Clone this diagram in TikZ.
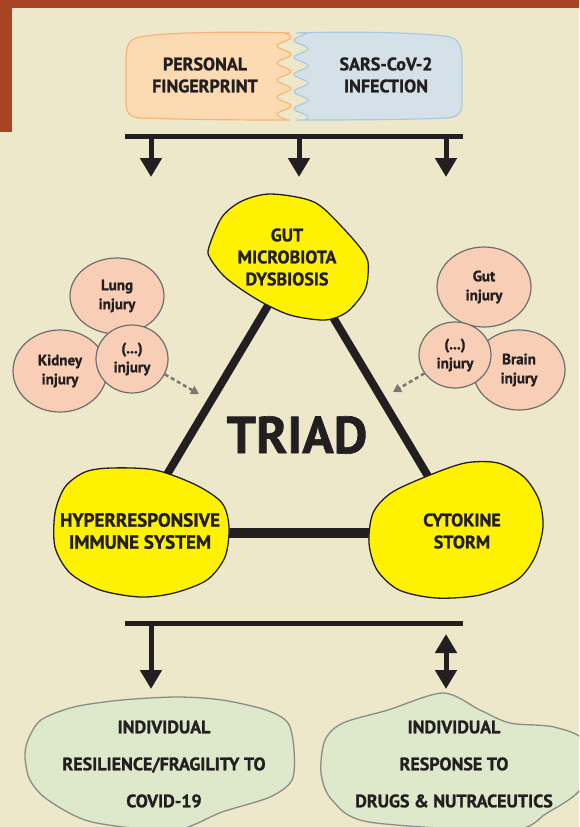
\documentclass[tikz,border=0pt]{standalone}
\usepackage{fontspec}
\setmainfont{PT Sans}[BoldFeatures={FakeBold=1.2}]
\usetikzlibrary{arrows.meta,shapes.geometric}

\definecolor{paper}{RGB}{237,232,201}
\definecolor{rust}{RGB}{168,68,36}
\definecolor{ink}{RGB}{35,31,32}
\definecolor{peach}{RGB}{252,218,178}
\definecolor{peachline}{RGB}{246,182,122}
\definecolor{sky}{RGB}{212,225,232}
\definecolor{skyline}{RGB}{172,202,222}
\definecolor{yolk}{RGB}{255,242,0}
\definecolor{blush}{RGB}{248,206,182}
\definecolor{rim}{RGB}{110,110,110}
\definecolor{leaf}{RGB}{222,232,203}
\definecolor{hintgray}{RGB}{120,120,120}

\pgfdeclarelayer{back}
\pgfsetlayers{back,main}

\tikzset{
  txt/.style={font=\bfseries\fontsize{18}{22}\selectfont, text=ink, align=center, inner sep=0pt},
  injury/.style={ellipse, draw=rim, line width=1.2pt, fill=blush, inner sep=0pt,
    font=\bfseries\fontsize{15}{19}\selectfont, text=ink, align=center},
  blob/.style={fill=yolk, draw=ink, line width=1.3pt},
  cloud/.style={fill=leaf, draw=rim!80, line width=1.3pt},
  flow/.style={line width=5pt, draw=ink, -{Triangle[width=21pt,length=19pt]}},
  link/.style={line width=8pt, draw=ink},
  hint/.style={line width=2.5pt, draw=hintgray, dash pattern=on 4pt off 3pt,
    -{Triangle[width=9pt,length=8pt]}},
}

\begin{document}
\begin{tikzpicture}[x=1pt, y=-1pt]
  \useasboundingbox (0,0) rectangle (579,827);
  \clip (0,0) rectangle (579,827);
  \begin{pgfonlayer}{back}
    \fill[paper] (0,0) rectangle (579,827);
  \end{pgfonlayer}
  % frame corner
  \fill[rust] (0,0) rectangle (579,8);
  \fill[rust] (0,0) rectangle (12,132);

  % top box, two halves with a wavy seam
  \filldraw[fill=peach, draw=peachline, line width=1.2pt]
    (290,33) .. controls (220,31) and (150,33) .. (136,38)
    .. controls (127,41) and (126,50) .. (126,60) -- (126,102)
    .. controls (126,112) and (129,117) .. (140,118)
    .. controls (200,120) and (260,120) .. (290,120)
    -- plot[domain=120:33, samples=90] ({284+7*sin(21*(\x-33))}, \x) -- cycle;
  \filldraw[fill=sky, draw=skyline, line width=1.2pt]
    (296,33) .. controls (360,31) and (430,33) .. (450,37)
    .. controls (460,40) and (462,48) .. (462,60) -- (462,104)
    .. controls (462,113) and (458,117) .. (448,118)
    .. controls (400,120) and (330,120) .. (296,120)
    -- plot[domain=120:33, samples=90] ({301+7*sin(21*(\x-33)+120)}, \x) -- cycle;
  \node[txt] (pf) at (205,75) {PERSONAL\\FINGERPRINT};
  \node[txt] (sars) at (386,75) {SARS-CoV-2\\INFECTION};

  % bar and arrows to the triad
  \coordinate (topW) at (125,136);
  \coordinate (topE) at (463,136);
  \coordinate (t1) at (151,177);
  \coordinate (t2) at (299,177);
  \coordinate (t3) at (446,177);
  \draw[line width=5pt, ink] (topW) -- (topE);
  \foreach \t in {t1,t2,t3}
    \draw[flow] (topW -| \t) -- (\t);

  % triad blobs
  \draw[blob] plot[smooth cycle] coordinates {(209,247) (222,217) (242,201) (271,194)
    (314,202) (343,228) (366,256) (368,275) (364,292) (347,312) (325,320) (290,315)
    (258,300) (226,278) (210,258)};
  \draw[blob] plot[smooth cycle] coordinates {(111,468) (155,470) (196,485) (222,503)
    (229,527) (225,557) (207,580) (174,593) (140,597) (100,590) (70,573) (55,547)
    (55,513) (65,487) (85,472)};
  \draw[blob] plot[smooth cycle] coordinates {(425,477) (465,463) (498,463) (524,477)
    (539,500) (543,527) (535,557) (517,580) (480,595) (436,598) (399,590) (377,570)
    (369,543) (373,513) (391,493)};
  \node[txt] (gut) at (287,257) {GUT\\MICROBIOTA\\DYSBIOSIS};
  \node[txt, font=\bfseries\fontsize{19}{22}\selectfont] (hyper) at (140,531) {HYPERRESPONSIVE\\IMMUNE SYSTEM};
  \node[txt] (cyto) at (462,531) {CYTOKINE\\STORM};
  \node[font=\bfseries\fontsize{52}{52}\selectfont, text=ink] (triad) at (297,435) {TRIAD};

  \coordinate (gutv) at (297,257);
  \coordinate (hyperv) at (132,533);
  \coordinate (cytov) at (462,533);
  \begin{pgfonlayer}{back}
    \draw[link] (gutv) -- (hyperv);
    \draw[link] (gutv) -- (cytov);
    \draw[link, line width=10pt] (hyperv) -- (cytov);
  \end{pgfonlayer}

  % organ injuries
  \node[injury, minimum width=94pt, minimum height=76pt] (lung) at (117,296) {Lung\\injury};
  \node[injury, minimum width=94pt, minimum height=82pt] (kidney) at (60,371) {Kidney\\injury};
  \node[injury, minimum width=72pt, minimum height=68pt] (injl) at (132,359) {(...)\\injury};
  \node[injury, minimum width=94pt, minimum height=80pt] (gutinj) at (484,287) {Gut\\injury};
  \node[injury, minimum width=92pt, minimum height=80pt] (brain) at (519,370) {Brain\\injury};
  \node[injury, minimum width=72pt, minimum height=66pt] (injr) at (455,355) {(...)\\injury};
  \coordinate (hintl) at (199,394);
  \coordinate (hintr) at (393,392);
  \draw[hint] (injl.-25) -- (hintl);
  \draw[hint] (injr.-149) -- (hintr);

  % outcomes
  \coordinate (botW) at (125,623);
  \coordinate (botE) at (463,623);
  \coordinate (b1) at (151,689);
  \coordinate (b2) at (446,689);
  \coordinate (b2top) at (446,634);
  \draw[line width=5pt, ink] (botW) -- (botE);
  \draw[flow] (botW -| b1) -- (b1);
  \draw[line width=5pt, draw=ink, {Triangle[width=21pt,length=19pt]}-{Triangle[width=21pt,length=19pt]}] (b2top) -- (b2);

  \draw[cloud] plot[smooth cycle] coordinates {(41,720) (74,707) (122,700) (177,697)
    (222,700) (266,710) (288,723) (294,750) (292,780) (270,797) (222,812) (174,830)
    (92,822) (48,800) (30,780) (25,757) (28,740)};
  \draw[cloud] plot[smooth cycle] coordinates {(343,723) (388,710) (443,693) (480,710)
    (510,723) (554,727) (585,742) (582,787) (547,813) (510,830) (369,822) (332,800)
    (321,773) (325,740)};
  \node[txt, font=\bfseries\fontsize{18}{37}\selectfont] (resil) at (164,764)
    {INDIVIDUAL\\RESILIENCE/FRAGILITY TO\\COVID-19};
  \node[txt, font=\bfseries\fontsize{18}{37}\selectfont] (resp) at (454,764)
    {INDIVIDUAL\\RESPONSE TO\\DRUGS \& NUTRACEUTICS};
\end{tikzpicture}
\end{document}
